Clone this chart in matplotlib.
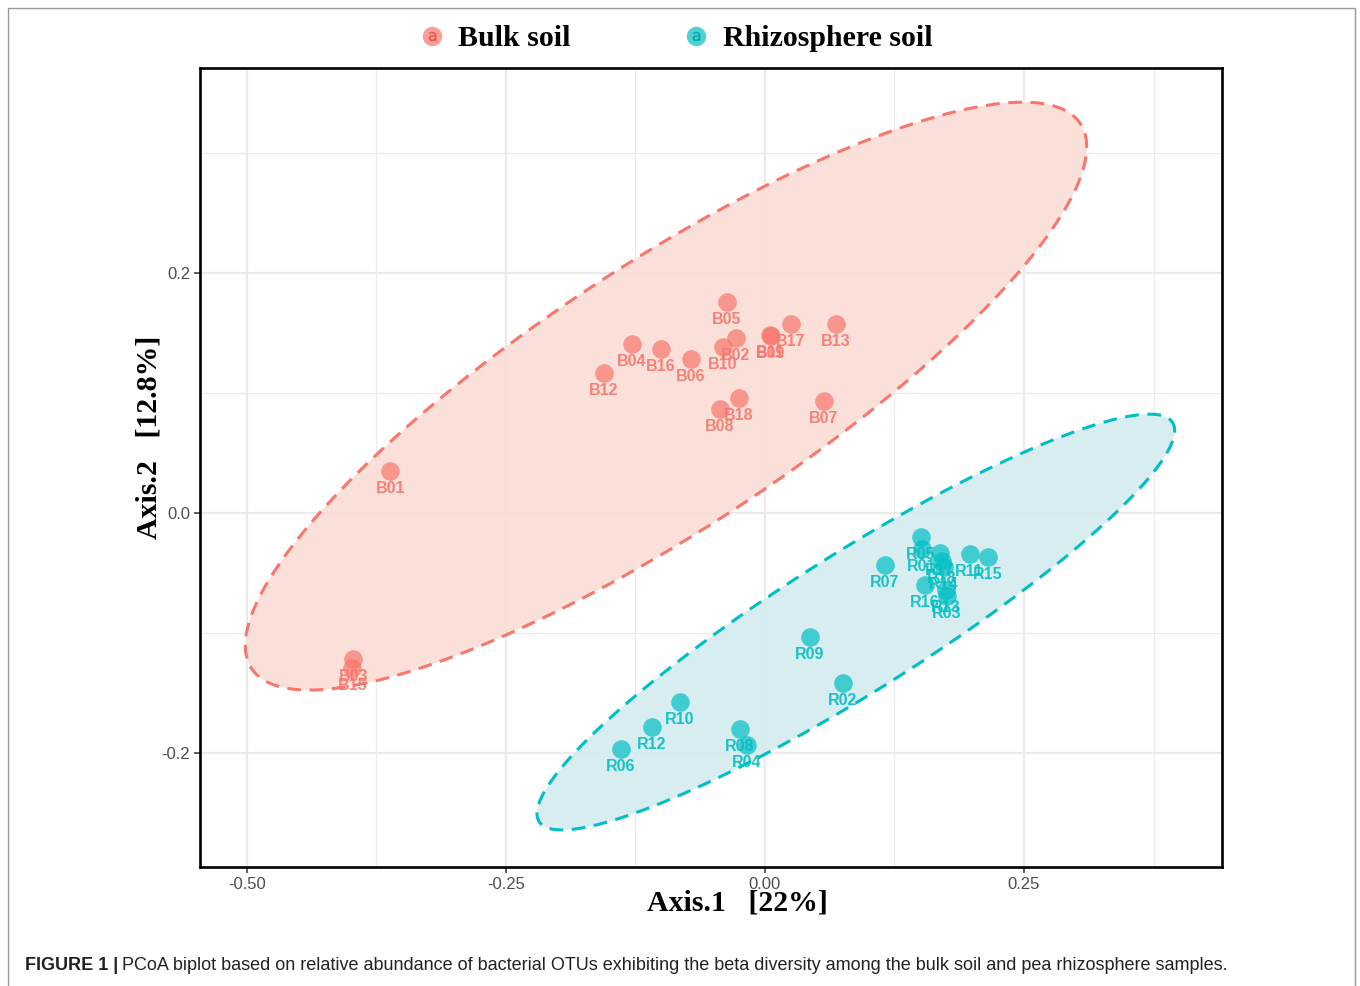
import numpy as np
import matplotlib
matplotlib.use("Agg")
import matplotlib.pyplot as plt
from matplotlib.lines import Line2D
from matplotlib.legend_handler import HandlerTuple
from matplotlib.patches import Rectangle

plt.rcParams['axes.unicode_minus'] = False

# PCoA scores
bulk_names = ['B01', 'B02', 'B03', 'B04', 'B05', 'B06', 'B07', 'B08', 'B09',
              'B10', 'B11', 'B12', 'B13', 'B15', 'B16', 'B17', 'B18']
bulk_x = [-0.3615, -0.028, -0.3972, -0.1282, -0.0366, -0.0713, 0.0569, -0.0434, 0.0058,
          -0.0405, 0.0048, -0.1552, 0.0685, -0.398, -0.1003, 0.0251, -0.0251]
bulk_y = [0.035, 0.1458, -0.1217, 0.1408, 0.1758, 0.1283, 0.0933, 0.0867, 0.1475,
          0.1383, 0.1483, 0.1167, 0.1575, -0.129, 0.1367, 0.1575, 0.0958]

rhizo_names = ['R01', 'R02', 'R03', 'R04', 'R05', 'R06', 'R07', 'R08', 'R09',
               'R10', 'R11', 'R12', 'R13', 'R14', 'R15', 'R16', 'R17', 'R18']
rhizo_x = [0.1514, 0.0752, 0.1755, -0.0174, 0.1504, -0.1388, 0.1157, -0.0241, 0.0434,
           -0.082, 0.1976, -0.109, 0.1745, 0.1726, 0.215, 0.1543, 0.1687, 0.1707]
rhizo_y = [-0.030, -0.1417, -0.0692, -0.1933, -0.020, -0.1967, -0.0433, -0.180, -0.1033,
           -0.1575, -0.0342, -0.1783, -0.0642, -0.045, -0.0367, -0.060, -0.0333, -0.040]

# confidence ellipses: centre, half extents, correlation
bulk_ell = dict(cx=-0.0954, cy=0.0975, sx=0.4059, sy=0.2450, rho=0.848)
rhizo_ell = dict(cx=0.0877, cy=-0.0908, sx=0.3076, sy=0.1733, rho=0.921)

RED = '#F8766D'
TEAL = '#00BFC4'


def ellipse_path(e, n=300):
    t = np.linspace(0, 2 * np.pi, n)
    u, v = np.cos(t), np.sin(t)
    x = e['cx'] + e['sx'] * u
    y = e['cy'] + e['sy'] * (e['rho'] * u + np.sqrt(1 - e['rho'] ** 2) * v)
    return x, y


fig = plt.figure(figsize=(13.6, 9.86), dpi=100)
ax = fig.add_axes([200 / 1360, 1 - 867 / 986, 1022 / 1360, 799 / 986])

for e, col, fc in [(bulk_ell, RED, '#FADDD5'), (rhizo_ell, TEAL, '#D3ECEE')]:
    ex, ey = ellipse_path(e)
    ax.fill(ex, ey, color=fc, alpha=0.9, lw=0, zorder=2)
    ax.plot(ex, ey, color=col, lw=2.2, ls=(0, (4.5, 2.8)), zorder=3)

for xs, ys, names, col in [(bulk_x, bulk_y, bulk_names, RED),
                           (rhizo_x, rhizo_y, rhizo_names, TEAL)]:
    ax.scatter(xs, ys, s=180, color=col, alpha=0.7, lw=0, zorder=4)
    for x, y, nm in zip(xs, ys, names):
        ax.annotate(nm, (x, y), xytext=(0, -12.5), textcoords='offset points',
                    ha='center', va='center', fontsize=11.5, fontweight='bold',
                    color=col, alpha=0.9, family='Liberation Sans', zorder=5)

ax.set_xlim(-0.545, 0.441)
ax.set_ylim(-0.295, 0.371)
ax.set_xticks([-0.50, -0.25, 0.00, 0.25])
ax.set_xticklabels(['-0.50', '-0.25', '0.00', '0.25'])
ax.set_yticks([-0.2, 0.0, 0.2])
ax.set_yticklabels(['-0.2', '0.0', '0.2'])
ax.set_xticks([-0.375, -0.125, 0.125, 0.375], minor=True)
ax.set_yticks([-0.1, 0.1, 0.3], minor=True)
ax.grid(which='major', color='#EBEBEB', lw=1.6, zorder=0)
ax.grid(which='minor', color='#EBEBEB', lw=0.9, zorder=0)
ax.set_axisbelow(True)
ax.tick_params(which='major', length=4, width=1.1, color='#333333',
               labelsize=12, labelcolor='#4D4D4D', pad=3)
ax.tick_params(which='minor', length=0)
for lab in ax.get_xticklabels() + ax.get_yticklabels():
    lab.set_family('Liberation Sans')
for sp in ax.spines.values():
    sp.set_linewidth(1.9)
    sp.set_color('black')

ax.set_xlabel('Axis.1   [22%]', family='Liberation Serif', fontweight='bold',
              fontsize=21.5)
ax.xaxis.set_label_coords(0.526, -0.028)
ax.set_ylabel('Axis.2   [12.8%]', family='Liberation Serif', fontweight='bold',
              fontsize=21.5)
ax.yaxis.set_label_coords(-0.037, 0.538)

# legend with the "a" keys drawn inside the circles
h = []
for col, acol in [(RED, '#E8554C'), (TEAL, '#00A5AA')]:
    c = Line2D([], [], ls='none', marker='o', markersize=14, markerfacecolor=col,
               markeredgewidth=0, alpha=0.7)
    a = Line2D([], [], ls='none', marker=r'$\mathregular{a}$', markersize=6.5,
               color=acol, markeredgewidth=0.2)
    h.append((c, a))
fig.legend(h, ['Bulk soil', 'Rhizosphere soil'], ncol=2, frameon=False,
           loc='center', bbox_to_anchor=(0.495, 0.961),
           handler_map={tuple: HandlerTuple(ndivide=1)},
           prop=dict(family='Liberation Serif', weight='bold', size=21.5),
           columnspacing=3.6, handletextpad=0.3, handlelength=1.2)

# caption
t1 = fig.text(25 / 1360, 1 - 966 / 986, 'FIGURE 1 |', fontsize=13,
              family='Liberation Sans', fontweight='bold', va='center',
              color='#222222')
fig.canvas.draw()
bb = t1.get_window_extent()
fig.text((bb.x1 + 4) / 1360, 1 - 966 / 986,
         'PCoA biplot based on relative abundance of bacterial OTUs exhibiting '
         'the beta diversity among the bulk soil and pea rhizosphere samples.',
         fontsize=13, family='Liberation Sans', va='center', color='#222222')

fig.add_artist(Rectangle((8 / 1360, -0.02), 1347 / 1360, 1.02 - 8 / 986,
                         transform=fig.transFigure, fill=False,
                         edgecolor='#999999', lw=1))

fig.savefig('out.png', dpi=100)
